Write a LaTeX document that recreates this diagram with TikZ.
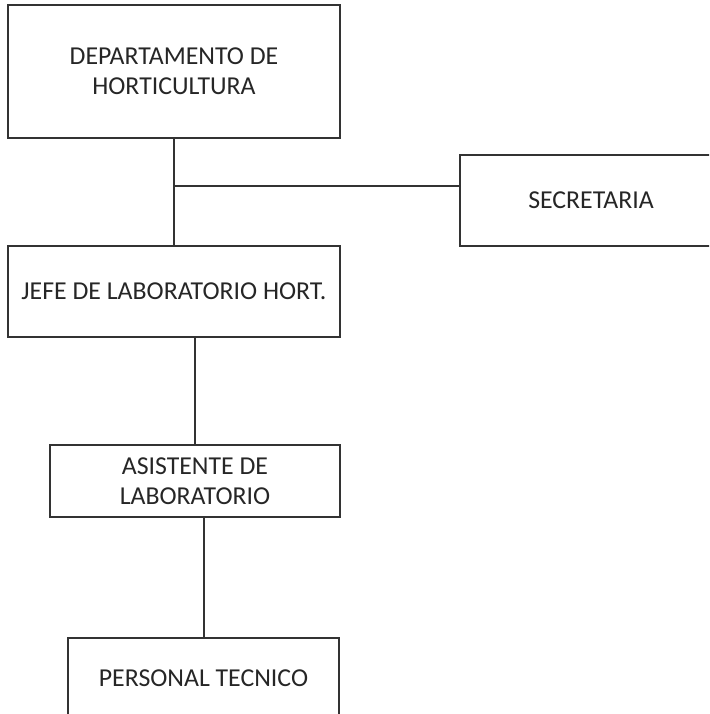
\documentclass[tikz,border=0pt]{standalone}
\usepackage{fontspec}
\setmainfont{Carlito}
\usetikzlibrary{calc}

\begin{document}
\begin{tikzpicture}[x=0.5pt, y=-0.5pt, line width=1pt, draw=black!80,
    cargo/.style={rectangle, draw=black!80, align=center, text=black!85,
      inner sep=0pt, font=\fontsize{12.9}{15}\selectfont}]
        \useasboundingbox (0,0) rectangle (709,714);
        \clip (0,0) rectangle (709,714);

        % cajas del organigrama
        \node[cargo, minimum width=166pt, minimum height=66.5pt] (dep) at (174,71.5) {DEPARTAMENTO DE\\HORTICULTURA};
        \node[cargo, minimum width=131pt, minimum height=45.5pt] (sec) at (591,200.5) {SECRETARIA};
        \node[cargo, minimum width=166pt, minimum height=45.5pt] (jefe) at (174,291.5) {JEFE DE LABORATORIO HORT.};
        \node[cargo, minimum width=145pt, minimum height=36pt] (asis) at (195,481) {ASISTENTE DE\\LABORATORIO};
        \node[cargo, minimum width=135.5pt, minimum height=40pt] (pers) at (203.5,678) {PERSONAL TECNICO};

        % lineas de mando
        \coordinate (rama) at (174,186);
        \draw[black!80] (dep.south) -- (jefe.north);
        \draw[black!80] (rama) -- (rama -| sec.west);
        \draw[black!80] (asis.north |- jefe.south) -- (asis.north);
        \draw[black!80] (pers.north |- asis.south) -- (pers.north);

    \end{tikzpicture}
\end{document}
